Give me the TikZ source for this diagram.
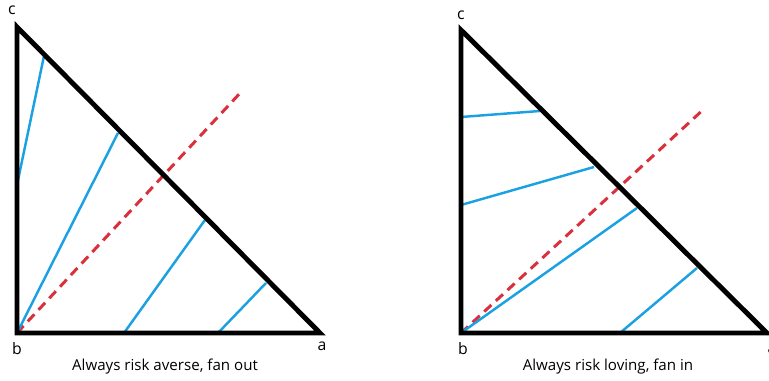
\documentclass[tikz,border=0pt]{standalone}
\usepackage{fontspec}
\setmainfont{Open Sans}
\usepackage{tikz}
\usetikzlibrary{positioning, calc}
\definecolor{edgeBlack}{HTML}{000000}
\definecolor{fanBlue}{HTML}{1BA1E2}
\definecolor{diagRed}{HTML}{D9303C}

\begin{document}
\begin{tikzpicture}[
    x=0.02cm, y=-0.02cm,
    side/.style={draw=edgeBlack, line width=2.8pt, line join=miter},
    fan/.style={draw=fanBlue, line width=1.4pt},
    diag/.style={draw=diagRed, line width=1.7pt, dash pattern=on 5.5pt off 3.5pt},
    corner/.style={font=\fontsize{9}{10}\selectfont, inner sep=0pt},
    caption/.style={font=\fontsize{8.6}{11}\selectfont, inner sep=0pt},
]
\useasboundingbox (0,0) rectangle (769,381);

% ── Left triangle: risk averse ──
\coordinate (lb) at (17,333);
\coordinate (lc) at (17,27);
\coordinate (la) at (320,333);
\draw[diag] (lb) -- (242,91);
\coordinate (lf1s) at (17,185);  \coordinate (lf1e) at (44,56);
\coordinate (lf2e) at (118,133);
\coordinate (lf3s) at (124,333); \coordinate (lf3e) at (205,220);
\coordinate (lf4s) at (218,333); \coordinate (lf4e) at (266,283);
\draw[fan] (lf1s) -- (lf1e);
\draw[fan] (lb) -- (lf2e);
\draw[fan] (lf3s) -- (lf3e);
\draw[fan] (lf4s) -- (lf4e);
\draw[side] (lc) -- (lb) -- (la) -- cycle;
\node[corner] (lcl) at (12,10) {c};
\node[corner] (lbl) at (17,349) {b};
\node[corner] (lal) at (322,346) {a};
\node[caption] (lcap) at (165,367) {Always risk averse, fan out};

% ── Right triangle: risk loving ──
\coordinate (rb) at (461,333);
\coordinate (rc) at (461,30);
\coordinate (ra) at (767,333);
\draw[diag] (rb) -- (705,108);
\coordinate (rf1s) at (461,117); \coordinate (rf1e) at (540,111);
\coordinate (rf2s) at (461,205); \coordinate (rf2e) at (594,167);
\coordinate (rf3e) at (637,208);
\coordinate (rf4s) at (620,333); \coordinate (rf4e) at (697,268);
\draw[fan] (rf1s) -- (rf1e);
\draw[fan] (rf2s) -- (rf2e);
\draw[fan] (rb) -- (rf3e);
\draw[fan] (rf4s) -- (rf4e);
\draw[side] (rc) -- (rb) -- (ra) -- cycle;
\node[corner] (rcl) at (461,15) {c};
\node[corner] (rbl) at (463,349) {b};
\node[corner] (ral) at (772,349) {a};
\node[caption] (rcap) at (608,367) {Always risk loving, fan in};
\end{tikzpicture}
\end{document}
